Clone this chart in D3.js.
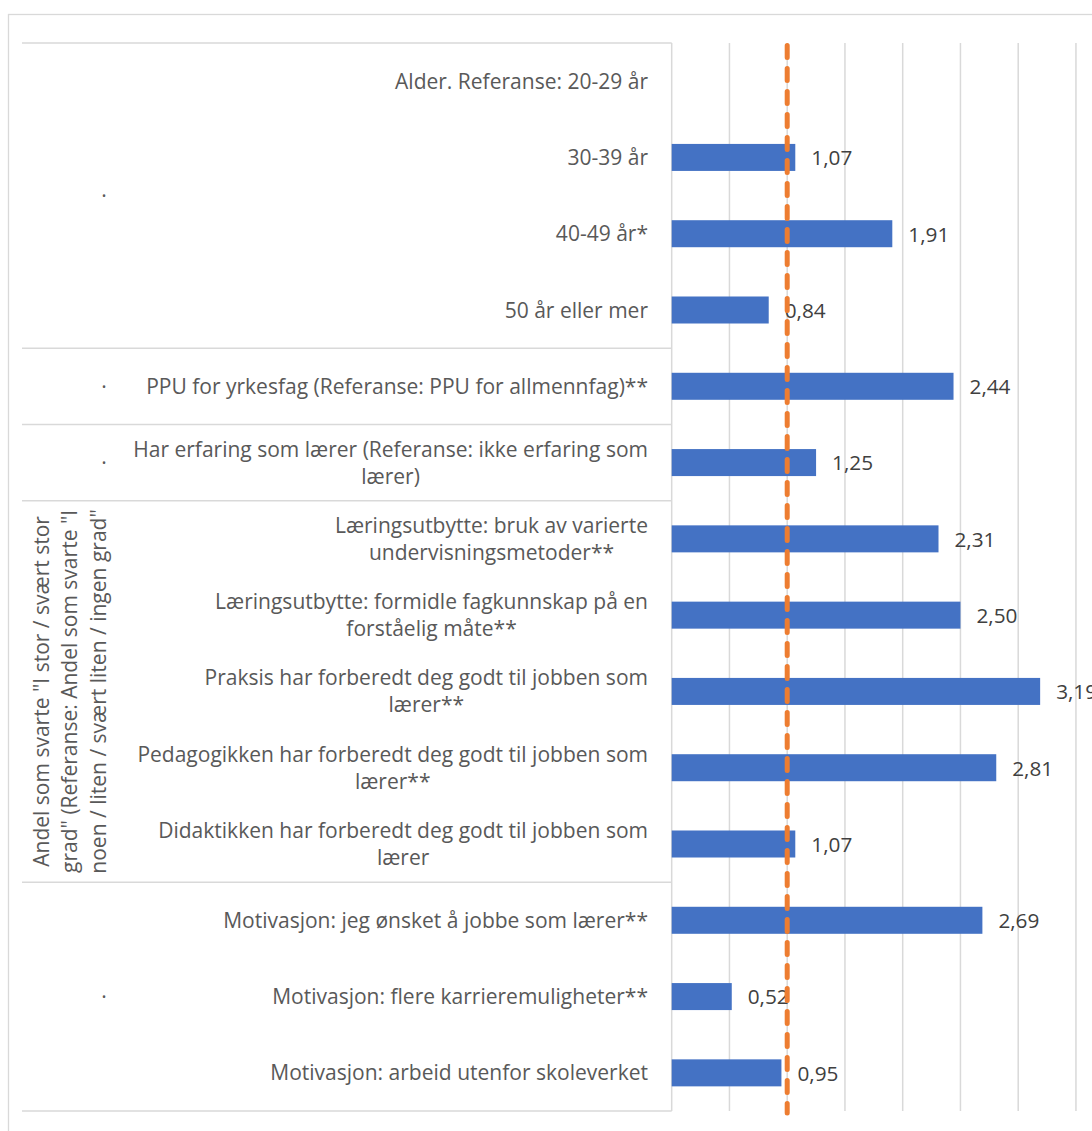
<!DOCTYPE html>
<html>
<head>
<meta charset="utf-8">
<script src="https://cdn.jsdelivr.net/npm/d3@7/dist/d3.min.js"></script>
<style>
  html, body { margin: 0; padding: 0; background: #ffffff; }
  svg { display: block; }
</style>
</head>
<body>
<svg id="chart" width="1092" height="1131"></svg>
<script>
// ---- data ----
const categories = [
  ["Alder. Referanse: 20-29 år"],
  ["30-39 år"],
  ["40-49 år*"],
  ["50 år eller mer"],
  ["PPU for yrkesfag (Referanse: PPU for allmennfag)**"],
  ["Har erfaring som lærer (Referanse: ikke erfaring som", "lærer)"],
  ["Læringsutbytte: bruk av varierte", "undervisningsmetoder**"],
  ["Læringsutbytte: formidle fagkunnskap på en", "forståelig måte**"],
  ["Praksis har forberedt deg godt til jobben som", "lærer**"],
  ["Pedagogikken har forberedt deg godt til jobben som", "lærer**"],
  ["Didaktikken har forberedt deg godt til jobben som", "lærer"],
  ["Motivasjon: jeg ønsket å jobbe som lærer**"],
  ["Motivasjon: flere karrieremuligheter**"],
  ["Motivasjon: arbeid utenfor skoleverket"]
];
const values = [null, 1.07, 1.91, 0.84, 2.44, 1.25, 2.31, 2.50, 3.19, 2.81, 1.07, 2.69, 0.52, 0.95];
const valueLabels = ["", "1,07", "1,91", "0,84", "2,44", "1,25", "2,31", "2,50", "3,19", "2,81", "1,07", "2,69", "0,52", "0,95"];
const groupLabels = [
  ["·"],
  ["·"],
  ["·"],
  ["Andel som svarte \"I stor / svært stor", "grad\" (Referanse: Andel som svarte \"I", "noen / liten / svært liten / ingen grad\""],
  ["·"]
];
const groupSizes = [4, 1, 1, 5, 3];
const groupRotated = [false, false, false, true, false];
const referenceValue = 1;
const xDomain = [0, 4];
const xTickStep = 0.5;

// ---- layout ----
const svg = d3.select("#chart");
const plotLeft = 671.7, plotRight = plotLeft + 4 * 115.5;
const plotTop = 43, plotBottom = 1111;
const labelLeft = 22;
const font = "'Open Sans', 'Noto Sans', sans-serif";

// fit font sizes so text widths match the reference layout
function fitSize(str, target, base) {
  const t = svg.append("text").attr("font-family", font).attr("font-size", base).text(str);
  const w = t.node().getComputedTextLength();
  t.remove();
  return base * target / w;
}
const catSize = fitSize("Motivasjon: arbeid utenfor skoleverket", 378, 18);
const valSize = fitSize("1,07", 41, 20);

svg.append("rect").attr("x", 0).attr("y", 0).attr("width", 1092).attr("height", 1131).attr("fill", "#fff");
svg.append("rect").attr("x", 8.5).attr("y", 14.5).attr("width", 1200).attr("height", 1200)
  .attr("fill", "none").attr("stroke", "#d9d9d9").attr("stroke-width", 1.3);

const x = d3.scaleLinear().domain(xDomain).range([plotLeft, plotRight]);
const y = d3.scaleBand().domain(d3.range(categories.length)).range([plotTop, plotBottom])
  .paddingInner(0.646).paddingOuter(0.323);
const step = y.step();

// gridlines
const ticks = d3.range(xDomain[0], xDomain[1] + 1e-9, xTickStep);
svg.append("g").selectAll("line").data(ticks).join("line")
  .attr("x1", d => x(d)).attr("x2", d => x(d))
  .attr("y1", plotTop).attr("y2", plotBottom)
  .attr("stroke", "#d9d9d9").attr("stroke-width", 1.5);

// group separators
let boundaries = [0];
groupSizes.forEach(s => boundaries.push(boundaries[boundaries.length - 1] + s));
svg.append("g").selectAll("line").data(boundaries).join("line")
  .attr("x1", labelLeft).attr("x2", plotLeft)
  .attr("y1", d => plotTop + d * step).attr("y2", d => plotTop + d * step)
  .attr("stroke", "#d9d9d9").attr("stroke-width", 1.5);

// bars
const barData = values.map((v, i) => ({v, i})).filter(d => d.v != null);
svg.append("g").selectAll("rect").data(barData).join("rect")
  .attr("x", x(0)).attr("y", d => y(d.i))
  .attr("width", d => x(d.v) - x(0)).attr("height", y.bandwidth())
  .attr("fill", "#4472C4");

// value labels
svg.append("g").selectAll("text").data(barData).join("text")
  .attr("x", d => x(d.v) + 16).attr("y", d => y(d.i) + y.bandwidth() / 2)
  .attr("dy", "0.38em")
  .attr("font-family", font).attr("font-size", valSize).attr("fill", "#404040")
  .text(d => valueLabels[d.i]);

// reference line
svg.append("line")
  .attr("x1", x(referenceValue)).attr("x2", x(referenceValue))
  .attr("y1", plotTop + 2.5).attr("y2", plotBottom + 2)
  .attr("stroke", "#ED7D31").attr("stroke-width", 5)
  .attr("stroke-dasharray", "12,11").attr("stroke-linecap", "round");

// category labels
const labelRight = 648;
const lineH = 27;
const catG = svg.append("g");
categories.forEach((lines, i) => {
  const cy = y(i) + y.bandwidth() / 2;
  const t = catG.append("text")
    .attr("font-family", font).attr("font-size", catSize).attr("fill", "#595959")
    .attr("text-anchor", "middle");
  const spans = lines.map((l, k) => t.append("tspan").text(l));
  const maxW = d3.max(spans, s => s.node().getComputedTextLength());
  const cx = labelRight - maxW / 2;
  spans.forEach((s, k) => {
    s.attr("x", cx).attr("y", cy + (k - (lines.length - 1) / 2) * lineH).attr("dy", "0.36em");
  });
});

// group labels
const grpG = svg.append("g");
groupLabels.forEach((lines, g) => {
  const start = boundaries[g], end = boundaries[g + 1];
  const cy = plotTop + (start + end) / 2 * step;
  if (groupRotated[g]) {
    lines.forEach((l, k) => {
      const lx = 41 + k * 28.5;
      grpG.append("text")
        .attr("transform", `translate(${lx},${cy}) rotate(-90)`)
        .attr("text-anchor", "middle").attr("dy", "0.36em")
        .attr("font-family", font).attr("font-size", catSize).attr("fill", "#595959")
        .text(l);
    });
  } else {
    grpG.append("text")
      .attr("x", 104).attr("y", cy).attr("dy", "0.36em")
      .attr("text-anchor", "middle")
      .attr("font-family", font).attr("font-size", catSize).attr("fill", "#595959")
      .text(lines[0]);
  }
});
</script>
</body>
</html>
